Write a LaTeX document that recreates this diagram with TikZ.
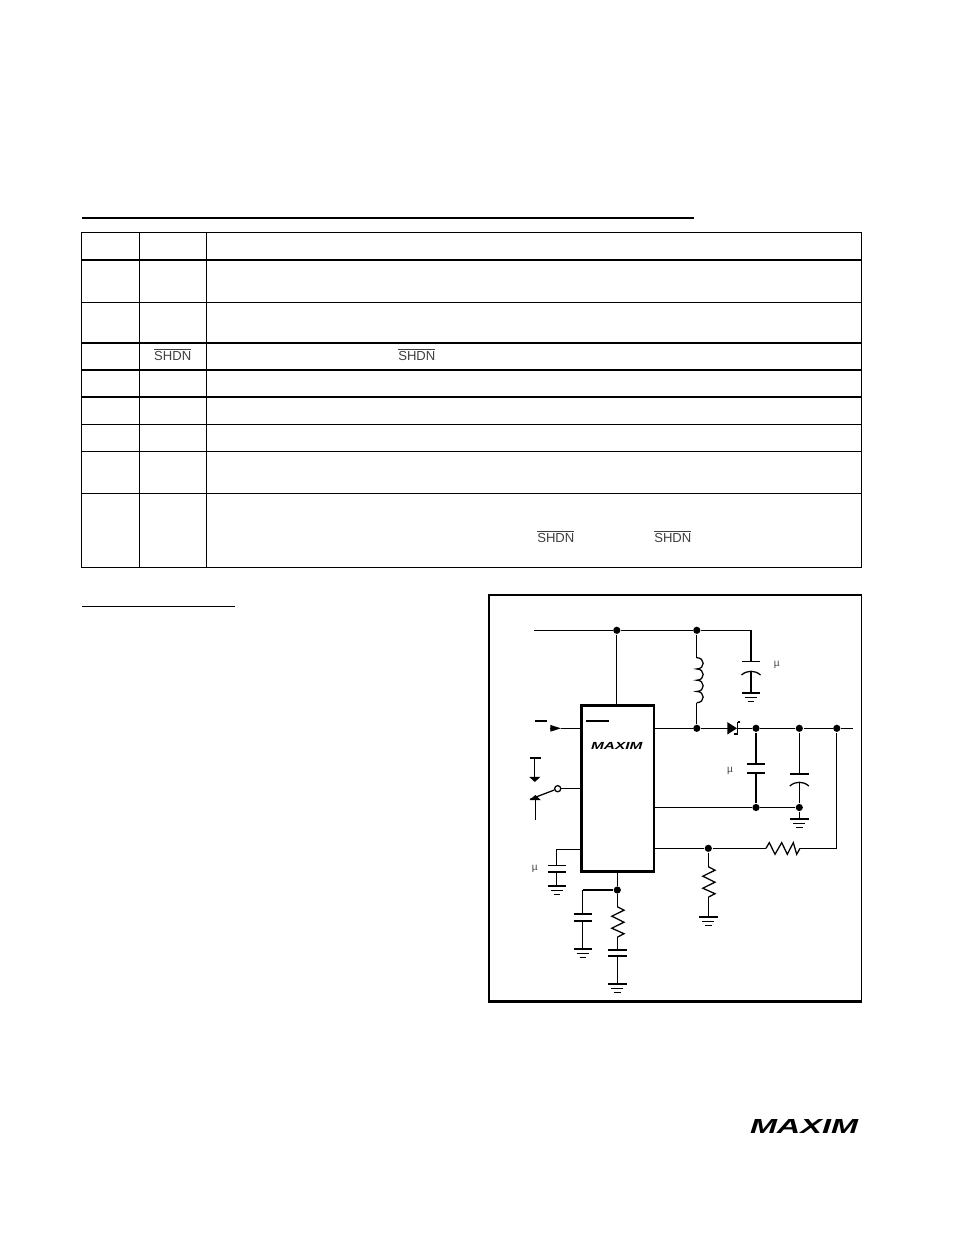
\documentclass[tikz,border=0pt]{standalone}
\usepackage{fontspec}
\setmainfont{Liberation Sans}
\usepackage{tikz}
\usetikzlibrary{arrows.meta}
\tikzset{
  dot/.style={circle, fill, inner sep=0pt, minimum size=5.4pt},
  ring/.style={circle, draw, fill=white, inner sep=0pt, minimum size=4.6pt},
  word/.style={inner sep=0pt, font=\fontsize{9.8}{12}\selectfont, text=black!75},
  mu/.style={inner sep=0pt, font=\fontsize{7.5}{9}\selectfont, text=black!75},
  rule/.style={line width=0.95pt},
  plate/.pic={\draw (-9.2,0) -- (9.2,0);},
  bow/.pic={\draw (-9.5,4) .. controls (-4,-1) and (4,-1) .. (9.5,4);},
  gnd/.pic={
    \draw (-9.2,0) -- (9.2,0);
    \draw (-6,4.2) -- (6,4.2);
    \draw (-3.2,8.4) -- (3.2,8.4);
  },
  coil/.pic={
    \draw (0,0) .. controls (8.5,0) and (8.5,11.25) .. (0,11.25)
      .. controls (8.5,11.25) and (8.5,22.5) .. (0,22.5)
      .. controls (8.5,22.5) and (8.5,33.75) .. (0,33.75)
      .. controls (8.5,33.75) and (8.5,45) .. (0,45);
  },
  resv/.pic={\draw (0,0) -- (6.7,3.5) -- (-5.5,9.5) -- (6.7,15.5) -- (-5.5,21.5) -- (6.7,27) -- (0,30.5);},
  resh/.pic={\draw (0,0) -- (3.3,-5.7) -- (9,6) -- (15.7,-5.7) -- (21.3,6) -- (27.3,-5.7) -- (30.7,6) -- (34,0);},
}

\begin{document}
\begin{tikzpicture}[x=0.75pt, y=-0.75pt, line width=0.95pt]
        \useasboundingbox (0,0) rectangle (954,1235);

        \draw [line width=1.8pt] (82,217.7) -- (694,217.7);
        \draw [rule] (81.5,232.7) rectangle (861.5,567.3);
        \draw [rule] (139.5,232.7) -- (139.5,567.3);
        \draw [rule] (206.3,232.7) -- (206.3,567.3);
        \draw [rule] (81.5,260) -- (861.5,260);
        \draw [rule] (81.5,302.3) -- (861.5,302.3);
        \draw [rule] (81.5,343) -- (861.5,343);
        \draw [rule] (81.5,370) -- (861.5,370);
        \draw [rule] (81.5,397) -- (861.5,397);
        \draw [rule] (81.5,424.3) -- (861.5,424.3);
        \draw [rule] (81.5,451.3) -- (861.5,451.3);
        \draw [rule] (81.5,493.3) -- (861.5,493.3);
        \draw [rule] (82,606.3) -- (235,606.3);

        \node [word] (n1) at (172.7,354.6) {$\overline{\mbox{SHDN}}$};
        \node [word] (n2) at (416.8,354.6) {$\overline{\mbox{SHDN}}$};
        \node [word] (n3) at (555.8,536.6) {$\overline{\mbox{SHDN}}$};
        \node [word] (n4) at (672.8,536.6) {$\overline{\mbox{SHDN}}$};
        \node [inner sep=0pt] (mark) at (804,1126) {\resizebox{81pt}{10.5pt}{\bfseries\itshape MAXIM}};

        \draw [line width=0.9pt] (489,595) rectangle (861.5,1001);
        \draw [line width=1.6pt] (489,595) -- (489,1001.5) -- (861.5,1001.5);

        \node [draw, line width=2.2pt, minimum width=54.7pt, minimum height=125pt, inner sep=0pt] (chip) at (617.5,788.5) {};
        \node [inner sep=0pt] (logo) at (616.8,746) {\resizebox{38.5pt}{5.3pt}{\bfseries\itshape MAXIM}};
        \draw (586,721) -- (608.7,721);

        \coordinate (a0) at (534,630.3);
        \node [dot] (a1) at (616.8,630.3) {};
        \node [dot] (a2) at (696.8,630.3) {};
        \coordinate (a3) at (751,630.3);
        \coordinate (c1a) at (751,661.7);
        \coordinate (c1b) at (751,671);
        \coordinate (c1g) at (751,693);
        \coordinate (l1) at (696.8,657.7);
        \coordinate (l2) at (696.8,702.7);

        \coordinate (b0) at (654,728.3);
        \node [dot] (b1) at (696.8,728.3) {};
        \coordinate (d1) at (727,728.3);
        \coordinate (d2) at (737,728.3);
        \node [dot] (b2) at (756,728.3) {};
        \node [dot] (b3) at (799.3,728.3) {};
        \node [dot] (b4) at (836.8,728.3) {};
        \coordinate (b5) at (853,728.3);

        \coordinate (c2a) at (756,764);
        \coordinate (c2b) at (756,773);
        \coordinate (c3a) at (799.3,774);
        \coordinate (c3b) at (799.3,782);
        \node [dot] (e1) at (756,807.5) {};
        \node [dot] (e2) at (799.3,807.5) {};
        \coordinate (c3g) at (799.3,819);

        \coordinate (f0) at (654,848.3);
        \node [dot] (f1) at (708.3,848.3) {};
        \coordinate (r1a) at (766,848.3);
        \coordinate (r1b) at (800,848.3);
        \coordinate (f2) at (836.8,848.3);
        \coordinate (r2a) at (708.3,866.7);
        \coordinate (r2b) at (708.3,897.2);
        \coordinate (r2g) at (708.3,917);

        \coordinate (p0) at (617.3,872);
        \node [dot] (p1) at (617.3,890) {};
        \coordinate (r3a) at (617.3,906.7);
        \coordinate (r3b) at (617.3,937.2);
        \coordinate (c4a) at (617.3,950);
        \coordinate (c4b) at (617.3,956);
        \coordinate (c4g) at (617.3,984);
        \coordinate (p2) at (582.7,890);
        \coordinate (c5a) at (582.7,914);
        \coordinate (c5b) at (582.7,921);
        \coordinate (c5g) at (582.7,949);

        \coordinate (h0) at (581,849.3);
        \coordinate (h1) at (556.7,849.3);
        \coordinate (c6a) at (556.7,865.7);
        \coordinate (c6b) at (556.7,872);
        \coordinate (c6g) at (556.7,886);

        \coordinate (i1) at (550,728.3);
        \coordinate (i2) at (561,728.3);
        \node [ring] (s0) at (557.7,788.7) {};
        \coordinate (s1) at (530,799.3);
        \coordinate (t1) at (534.8,758);
        \coordinate (t2) at (534.8,782);
        \coordinate (u1) at (535.3,820);
        \coordinate (u2) at (535.3,795);

        \draw (a0) -- (a1);
        \draw (a1) -- (a2);
        \draw (a2) -- (a3);
        \draw (a3) -- (c1a);
        \draw (c1b) -- (c1g);
        \draw (a1) -- (a1 |- chip.north);
        \draw (a2) -- (l1);
        \draw (l2) -- (b1);
        \draw (b0) -- (b1);
        \draw (b1) -- (d1);
        \draw [-{Triangle[length=7.2pt, width=9pt, sep=0pt]}] (d1) -- (d2);
        \draw (737.7,722) -- (740,722);
        \draw (737.7,722) -- (737.7,734) -- (733.5,734);
        \draw (d2) -- (b2);
        \draw (b2) -- (b3);
        \draw (b3) -- (b4);
        \draw (b4) -- (b5);
        \draw (b2) -- (c2a);
        \draw (c2b) -- (e1);
        \draw (b3) -- (c3a);
        \draw (c3b) -- (e2);
        \draw (e2) -- (c3g);
        \draw (e1 -| chip.east) -- (e1);
        \draw (e1) -- (e2);
        \draw (f0) -- (f1);
        \draw (f1) -- (r1a);
        \draw (r1b) -- (f2);
        \draw (f2) -- (b4);
        \draw (f1) -- (r2a);
        \draw (r2b) -- (r2g);
        \draw (p0) -- (p1);
        \draw (p1) -- (r3a);
        \draw (r3b) -- (c4a);
        \draw (c4b) -- (c4g);
        \draw (p1) -- (p2);
        \draw (p2) -- (c5a);
        \draw (c5b) -- (c5g);
        \draw (h0) -- (h1);
        \draw (h1) -- (c6a);
        \draw (c6b) -- (c6g);
        \draw [-{Triangle[length=8pt, width=4.8pt, sep=0pt]}] (i1) -- (i2);
        \draw (i2) -- (i2 -| chip.west);
        \draw (s0) -- (s0 -| chip.west);
        \draw (s0) -- (s1);
        \draw (535,721) -- (547,721);
        \draw (530,758) -- (540.7,758);
        \draw [-{Triangle[length=3.8pt, width=8pt, sep=0pt]}] (t1) -- (t2);
        \draw [-{Triangle[length=3.8pt, width=8pt, sep=0pt]}] (u1) -- (u2);

        \pic at (l1) {coil};
        \pic at (c1a) {plate};
        \pic at (c1b) {bow};
        \pic at (c1g) {gnd};
        \pic at (c2a) {plate};
        \pic at (c2b) {plate};
        \pic at (c3a) {plate};
        \pic at (c3b) {bow};
        \pic at (c3g) {gnd};
        \pic at (r1a) {resh};
        \pic at (r2a) {resv};
        \pic at (r2g) {gnd};
        \pic at (r3a) {resv};
        \pic at (c4a) {plate};
        \pic at (c4b) {plate};
        \pic at (c4g) {gnd};
        \pic at (c5a) {plate};
        \pic at (c5b) {plate};
        \pic at (c5g) {gnd};
        \pic at (c6a) {plate};
        \pic at (c6b) {plate};
        \pic at (c6g) {gnd};

        \node [mu] (m1) at (776.7,665) {µ};
        \node [mu] (m2) at (730,770.7) {µ};
        \node [mu] (m3) at (534.7,869) {µ};
\end{tikzpicture}
\end{document}
